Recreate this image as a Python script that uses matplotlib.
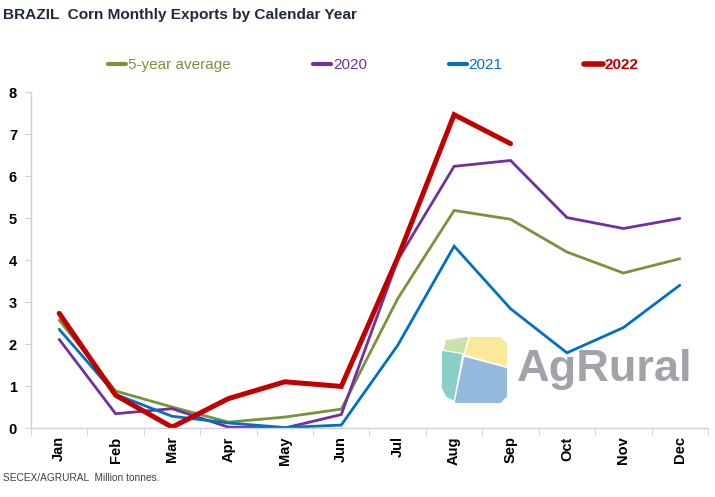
import matplotlib
matplotlib.use("Agg")
import matplotlib.pyplot as plt
from matplotlib import font_manager
from matplotlib.patches import Polygon

months = ["Jan", "Feb", "Mar", "Apr", "May", "Jun", "Jul", "Aug", "Sep", "Oct", "Nov", "Dec"]
avg5 = [2.57, 0.88, 0.50, 0.14, 0.26, 0.45, 3.08, 5.18, 4.97, 4.19, 3.69, 4.03]
y2020 = [2.11, 0.34, 0.46, 0.02, 0.00, 0.32, 4.00, 6.23, 6.37, 5.01, 4.75, 4.99]
y2021 = [2.35, 0.80, 0.28, 0.12, 0.01, 0.07, 1.97, 4.33, 2.84, 1.79, 2.39, 3.40]
y2022 = [2.73, 0.78, 0.02, 0.70, 1.10, 0.99, 4.05, 7.46, 6.77]
series_names = ["5-year average", "2020", "2021", "2022"]

names = {f.name for f in font_manager.fontManager.ttflist}
narrow = "Liberation Sans Narrow" if "Liberation Sans Narrow" in names else "Liberation Sans"
plt.rcParams["font.family"] = ["Liberation Sans", "DejaVu Sans"]

W, H = 715, 497
fig = plt.figure(figsize=(W / 100, H / 100), dpi=100)
ax = fig.add_axes([31 / W, 1 - 428 / H, (708 - 31) / W, (428 - 92) / H])

x = list(range(len(months)))
colors = ["#77933C", "#7030A0", "#0070C0", "#C00000"]
lws = [2.0, 2.0, 2.0, 3.6]
data = [avg5, y2020, y2021, y2022]
handles = []
for d, c, lw, n in zip(data, colors, lws, series_names):
    h, = ax.plot(x[:len(d)], d, color=c, lw=lw, solid_capstyle="round",
                 solid_joinstyle="miter", label=n)
    handles.append(h)

ax.set_xlim(-0.5, 11.5)
ax.set_ylim(0, 8)
for s in ["top", "right"]:
    ax.spines[s].set_visible(False)
for s in ["left", "bottom"]:
    ax.spines[s].set_color("#D0D0D0")
    ax.spines[s].set_linewidth(1.0)

ax.set_yticks(range(0, 9))
ax.set_yticklabels([str(i) for i in range(0, 9)], fontsize=10.5, fontweight="bold")
ax.tick_params(axis="y", length=4, color="#D0D0D0", pad=6)
ax.set_xticks(x)
ax.set_xticklabels(months, rotation=90, fontsize=10.5, fontweight="bold")
ax.tick_params(axis="x", which="major", length=0, pad=6)
ax.set_xticks([i + 0.5 for i in range(-1, 12)], minor=True)
ax.tick_params(axis="x", which="minor", length=6, color="#D0D0D0")

leg = fig.legend(handles=handles, loc="center left", bbox_to_anchor=(108 / W, 1 - 65 / H),
                 ncol=4, frameon=False, fontsize=11, handlelength=1.2,
                 handletextpad=0.12, columnspacing=5.35, labelcolor="linecolor",
                 borderaxespad=0, borderpad=0)
leg.get_texts()[3].set_fontweight("bold")
for lh in leg.get_lines():
    lh.set_linewidth(3.0)
leg.get_lines()[3].set_linewidth(4.0)

fig.text(3 / W, 1 - 15 / H, "BRAZIL  Corn Monthly Exports by Calendar Year",
         fontsize=11.1, fontweight="bold", color="#1F2A3C", family=[narrow, "DejaVu Sans"],
         va="center", ha="left")
fig.text(3 / W, 1 - 478 / H, "SECEX/AGRURAL  Million tonnes.", fontsize=7.3,
         color="#404040", family=[narrow, "DejaVu Sans"], va="center", ha="left")

# AgRural logo
def px(pts):
    return [(a / W, 1 - b / H) for a, b in pts]

logo = [
    ([(447, 341), (467, 338), (463, 352), (445, 349)], "#C9E2A9"),
    ([(471, 338), (500, 338), (506, 344), (506, 365), (466, 354)], "#FCE89A"),
    ([(443, 352), (461, 355), (453, 399), (447, 396), (443, 388)], "#8ACFC6"),
    ([(465, 358), (506, 369), (506, 396), (500, 402), (456, 402)], "#93BADC"),
]
for pts, c in logo:
    fig.patches.append(Polygon(px(pts), closed=True, transform=fig.transFigure,
                               facecolor=c, edgecolor=c, lw=1.5, joinstyle="round"))
fig.text(517 / W, 1 - 369 / H, "AgRural", fontsize=32.5, fontweight="bold",
         color="#A0A3A8", va="center", ha="left")

fig.savefig("out.png", dpi=100)
